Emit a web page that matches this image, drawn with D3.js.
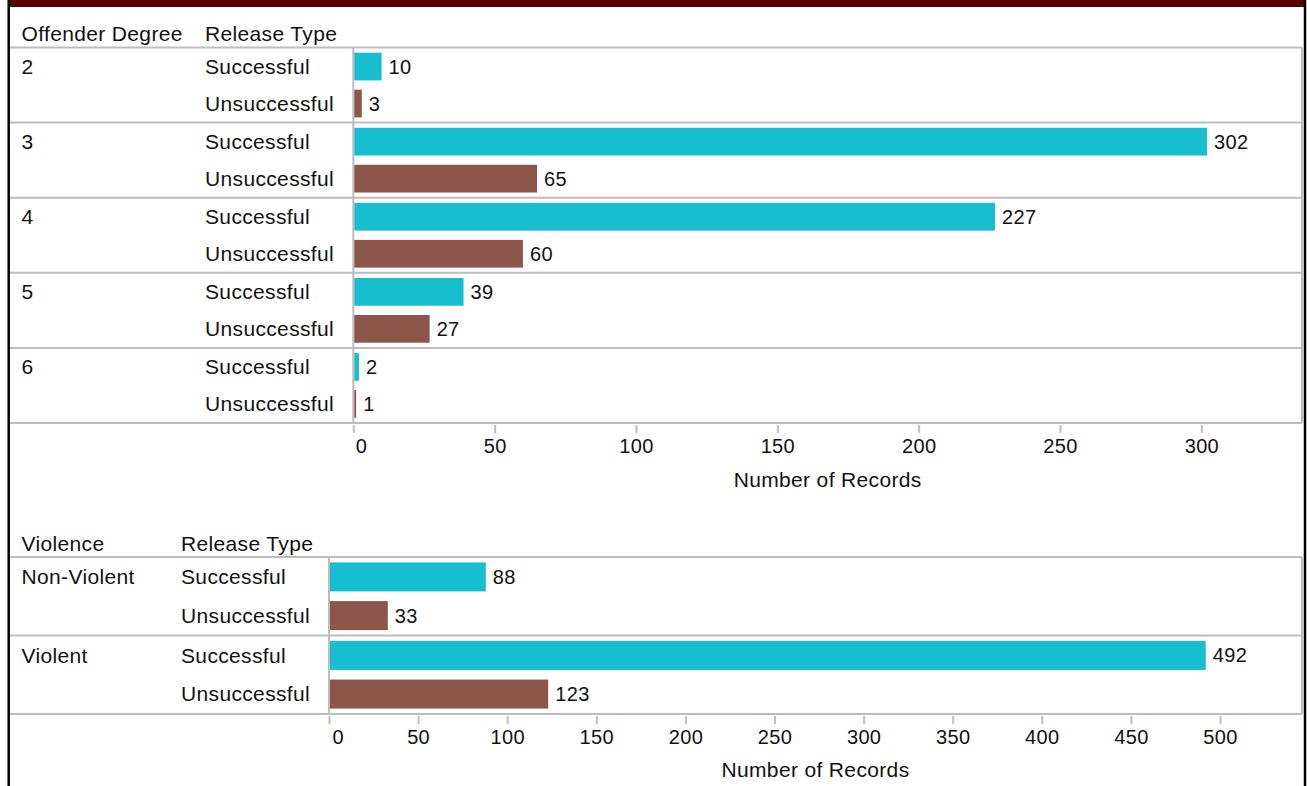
<!DOCTYPE html>
<html>
<head>
<meta charset="utf-8">
<script src="https://cdn.jsdelivr.net/npm/d3@7/dist/d3.min.js"></script>
<style>
  html, body { margin: 0; padding: 0; background: #fff; }
  svg { display: block; }
  text { font-family: "Liberation Sans", Arial, Helvetica, sans-serif; fill: #111; letter-spacing: 0.35px; }
</style>
</head>
<body>
<svg id="chart" width="1307" height="786"></svg>
<script>
// ---- data ----
const releaseTypes = ["Successful", "Unsuccessful"];

const degrees = ["2", "3", "4", "5", "6"];
const degreeSuccessful = [10, 302, 227, 39, 2];
const degreeUnsuccessful = [3, 65, 60, 27, 1];
const degreeTicks = [0, 50, 100, 150, 200, 250, 300];

const violenceGroups = ["Non-Violent", "Violent"];
const violenceSuccessful = [88, 492];
const violenceUnsuccessful = [33, 123];
const violenceTicks = [0, 50, 100, 150, 200, 250, 300, 350, 400, 450, 500];

const axisTitle = "Number of Records";
const colors = { Successful: "#17becf", Unsuccessful: "#8c564b" };

// ---- drawing ----
const svg = d3.select("#chart");
const W = 1307, H = 786;
const gridColor = "#bdbdbd";
const FS = 21;

// frame: dark banner and side borders
svg.append("rect").attr("x", 8).attr("y", 0).attr("width", 1298).attr("height", 7).attr("fill", "#560000");
svg.append("line").attr("x1", 8.7).attr("x2", 8.7).attr("y1", 0).attr("y2", H)
  .attr("stroke", "#000").attr("stroke-width", 2.5);
svg.append("line").attr("x1", 1305).attr("x2", 1305).attr("y1", 0).attr("y2", H)
  .attr("stroke", "#000").attr("stroke-width", 2.5);

function drawPanel(cfg) {
  const g = svg.append("g");
  const rows = cfg.groups.map((grp, i) => ({
    group: grp,
    values: [
      { type: "Successful", value: cfg.successful[i] },
      { type: "Unsuccessful", value: cfg.unsuccessful[i] }
    ]
  }));

  const y = d3.scaleBand().domain(cfg.groups).range([cfg.top, cfg.bottom]);
  const yInner = d3.scaleBand().domain(releaseTypes).range([0, y.bandwidth()])
    .paddingInner(0.25).paddingOuter(0.14);
  const x = d3.scaleLinear().domain([0, cfg.xMax]).range([cfg.plotLeft, cfg.right]);

  // column headers
  g.append("text").attr("x", cfg.groupX).attr("y", cfg.headerY)
    .attr("font-size", FS).text(cfg.groupHeader);
  g.append("text").attr("x", cfg.typeX).attr("y", cfg.headerY)
    .attr("font-size", FS).text("Release Type");

  // horizontal separators between groups
  const bounds = cfg.groups.map(d => y(d)).concat([cfg.bottom]);
  g.selectAll("line.sep").data(bounds).join("line").attr("class", "sep")
    .attr("x1", 10).attr("x2", cfg.right)
    .attr("y1", d => d).attr("y2", d => d)
    .attr("stroke", gridColor).attr("stroke-width", 2);

  // vertical edges of plot area
  g.append("line").attr("x1", cfg.plotLeft).attr("x2", cfg.plotLeft)
    .attr("y1", cfg.top).attr("y2", cfg.bottom).attr("stroke", gridColor).attr("stroke-width", 2);
  g.append("line").attr("x1", cfg.right).attr("x2", cfg.right)
    .attr("y1", cfg.top).attr("y2", cfg.bottom).attr("stroke", gridColor).attr("stroke-width", 2);

  const rowG = g.selectAll("g.row").data(rows).join("g").attr("class", "row")
    .attr("transform", d => `translate(0,${y(d.group)})`);

  // group label aligned with first row
  rowG.append("text").attr("x", cfg.groupX)
    .attr("y", yInner("Successful") + yInner.bandwidth() / 2)
    .attr("dy", "0.35em").attr("font-size", FS).text(d => d.group);

  const item = rowG.selectAll("g.item").data(d => d.values).join("g").attr("class", "item")
    .attr("transform", d => `translate(0,${yInner(d.type)})`);

  item.append("text").attr("x", cfg.typeX).attr("y", yInner.bandwidth() / 2)
    .attr("dy", "0.35em").attr("font-size", FS).text(d => d.type);

  item.append("rect")
    .attr("x", x(0) + 1)
    .attr("y", 0)
    .attr("width", d => Math.max(0, x(d.value) - x(0) - 1))
    .attr("height", yInner.bandwidth())
    .attr("fill", d => colors[d.type]);

  item.append("text").attr("x", d => x(d.value) + 7).attr("y", yInner.bandwidth() / 2)
    .attr("dy", "0.35em").attr("font-size", FS - 1).text(d => d.value);

  // x axis
  const axis = d3.axisBottom(x).tickValues(cfg.ticks).tickSize(8).tickPadding(6);
  const axG = g.append("g").attr("transform", `translate(0,${cfg.bottom + 2})`).call(axis);
  axG.select(".domain").remove();
  axG.selectAll(".tick line").attr("stroke", gridColor).attr("stroke-width", 2);
  axG.selectAll(".tick text")
    .attr("font-size", FS - 1).attr("font-family", null).style("fill", "#111")
    .attr("dy", "0.71em");
  axG.selectAll(".tick").filter(d => d === 0).select("text")
    .attr("text-anchor", "start").attr("x", cfg.zeroShift);

  g.append("text").attr("x", (cfg.plotLeft + cfg.right) / 2).attr("y", cfg.titleY)
    .attr("text-anchor", "middle").attr("font-size", FS).text(axisTitle);
}

drawPanel({
  groups: degrees, successful: degreeSuccessful, unsuccessful: degreeUnsuccessful,
  ticks: degreeTicks, xMax: 335.6,
  top: 47.5, bottom: 423, plotLeft: 353.3, right: 1302,
  groupHeader: "Offender Degree", groupX: 21.5, typeX: 205, headerY: 41,
  titleY: 487, zeroShift: 2
});

drawPanel({
  groups: violenceGroups, successful: violenceSuccessful, unsuccessful: violenceUnsuccessful,
  ticks: violenceTicks, xMax: 546,
  top: 557, bottom: 714, plotLeft: 329, right: 1302,
  groupHeader: "Violence", groupX: 21.5, typeX: 181, headerY: 551,
  titleY: 777, zeroShift: 3
});
</script>
</body>
</html>
